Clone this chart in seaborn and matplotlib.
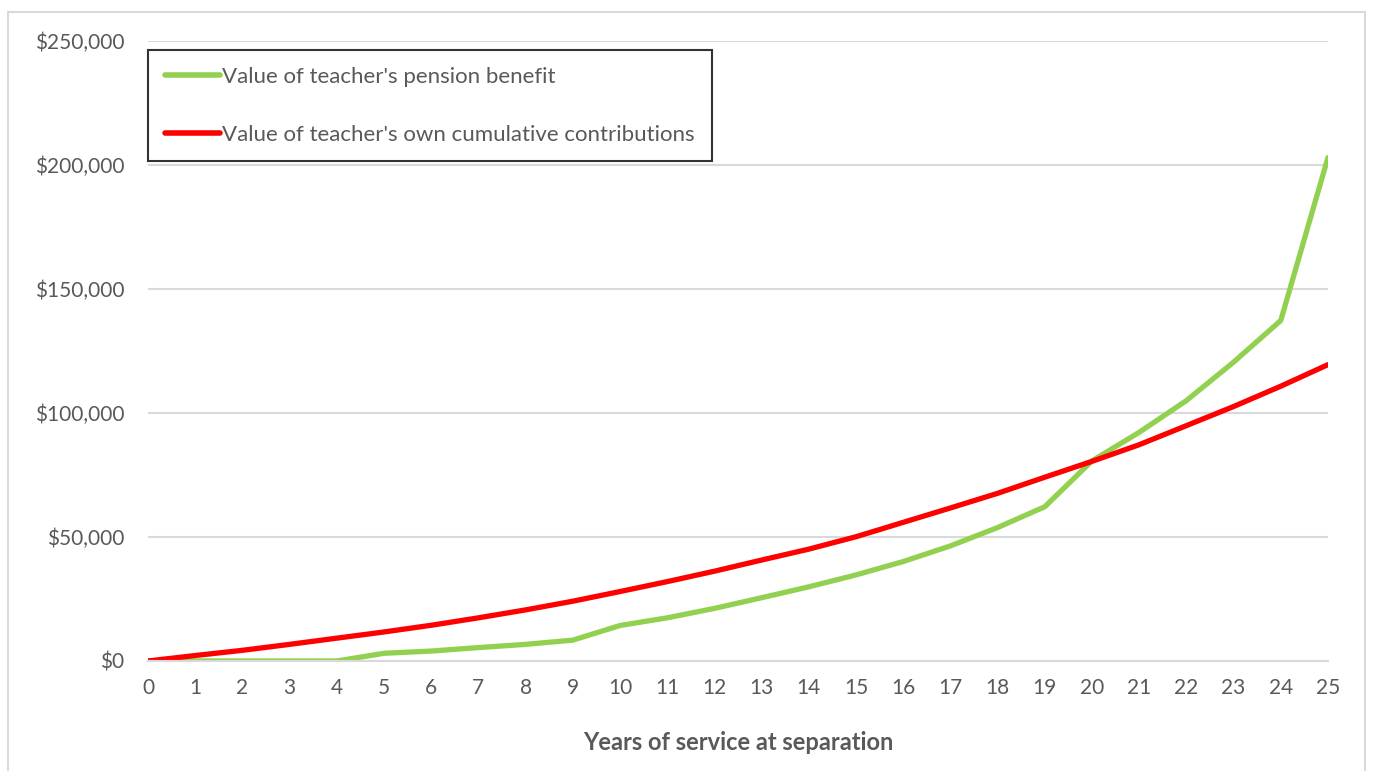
import pandas as pd
import matplotlib.pyplot as plt
import seaborn as sns
from matplotlib.patches import Rectangle
from matplotlib.ticker import FuncFormatter

# --- Dados ---
anos = list(range(0, 26))
beneficio_pensao = [0, 0, 0, 0, 0, 3100, 4000, 5400, 6700, 8400,
                    14300, 17400, 21200, 25500, 29900, 34700, 40100, 46400, 53800, 62200,
                    80700, 92200, 105000, 120500, 137300, 203000]
contribuicoes = [0, 2200, 4300, 6700, 9200, 11700, 14400, 17400, 20600, 24100,
                 28000, 32000, 36200, 40700, 45100, 50100, 55900, 61700, 67600, 74100,
                 80500, 87200, 94900, 102600, 110800, 119500]

nome_beneficio = "Value of teacher's pension benefit"
nome_contrib = "Value of teacher's own cumulative contributions"

df = pd.DataFrame({
    'ano': anos * 2,
    'valor': beneficio_pensao + contribuicoes,
    'serie': [nome_beneficio] * len(anos) + [nome_contrib] * len(anos),
})

sns.set_style("white")
plt.rcParams['font.family'] = ['Lato', 'DejaVu Sans']

cinza_texto = '#595959'
cinza_grade = '#d9d9d9'

fig = plt.figure(figsize=(13.73, 7.71), dpi=100)
ax = fig.add_axes([0.1078, 0.1427, 0.8594, 0.8041])

sns.lineplot(data=df, x='ano', y='valor', hue='serie',
             palette={nome_beneficio: '#92D050', nome_contrib: '#FF0000'},
             linewidth=3.8, ax=ax, solid_capstyle='round')

ax.set_xlim(0, 25)
ax.set_ylim(0, 250000)
ax.set_xticks(anos)
ax.set_yticks(range(0, 250001, 50000))
ax.yaxis.set_major_formatter(FuncFormatter(lambda v, p: f'${v:,.0f}'))
ax.grid(axis='y', color=cinza_grade, linewidth=1.5)
ax.set_axisbelow(True)

for lado in ['top', 'right', 'left']:
    ax.spines[lado].set_visible(False)
ax.spines['bottom'].set_color(cinza_grade)
ax.spines['bottom'].set_linewidth(1.5)

ax.tick_params(axis='x', colors=cinza_texto, labelsize=15, length=8, width=1.5,
               color=cinza_grade, direction='out', pad=4)
ax.tick_params(axis='y', colors=cinza_texto, labelsize=15, length=0, pad=17)

ax.set_xlabel("Years of service at separation", fontsize=17, fontweight='bold',
              color=cinza_texto, labelpad=24)
ax.set_ylabel("")

leg = ax.legend(loc='upper left', bbox_to_anchor=(0.0, 0.985), borderaxespad=0,
                fontsize=16, frameon=True, fancybox=False, edgecolor='black',
                handlelength=2.5, handletextpad=0.1, labelspacing=1.7,
                borderpad=0.75, title=None)
leg.get_frame().set_linewidth(1.5)
for t in leg.get_texts():
    t.set_color(cinza_texto)
for l in leg.get_lines():
    l.set_linewidth(4)

# borda cinza do quadro do gráfico
fig.patches.append(Rectangle((0.006, -0.01), 0.988, 0.995, transform=fig.transFigure,
                             fill=False, edgecolor='#d9d9d9', linewidth=1.5))

plt.savefig('out.png', dpi=100)
